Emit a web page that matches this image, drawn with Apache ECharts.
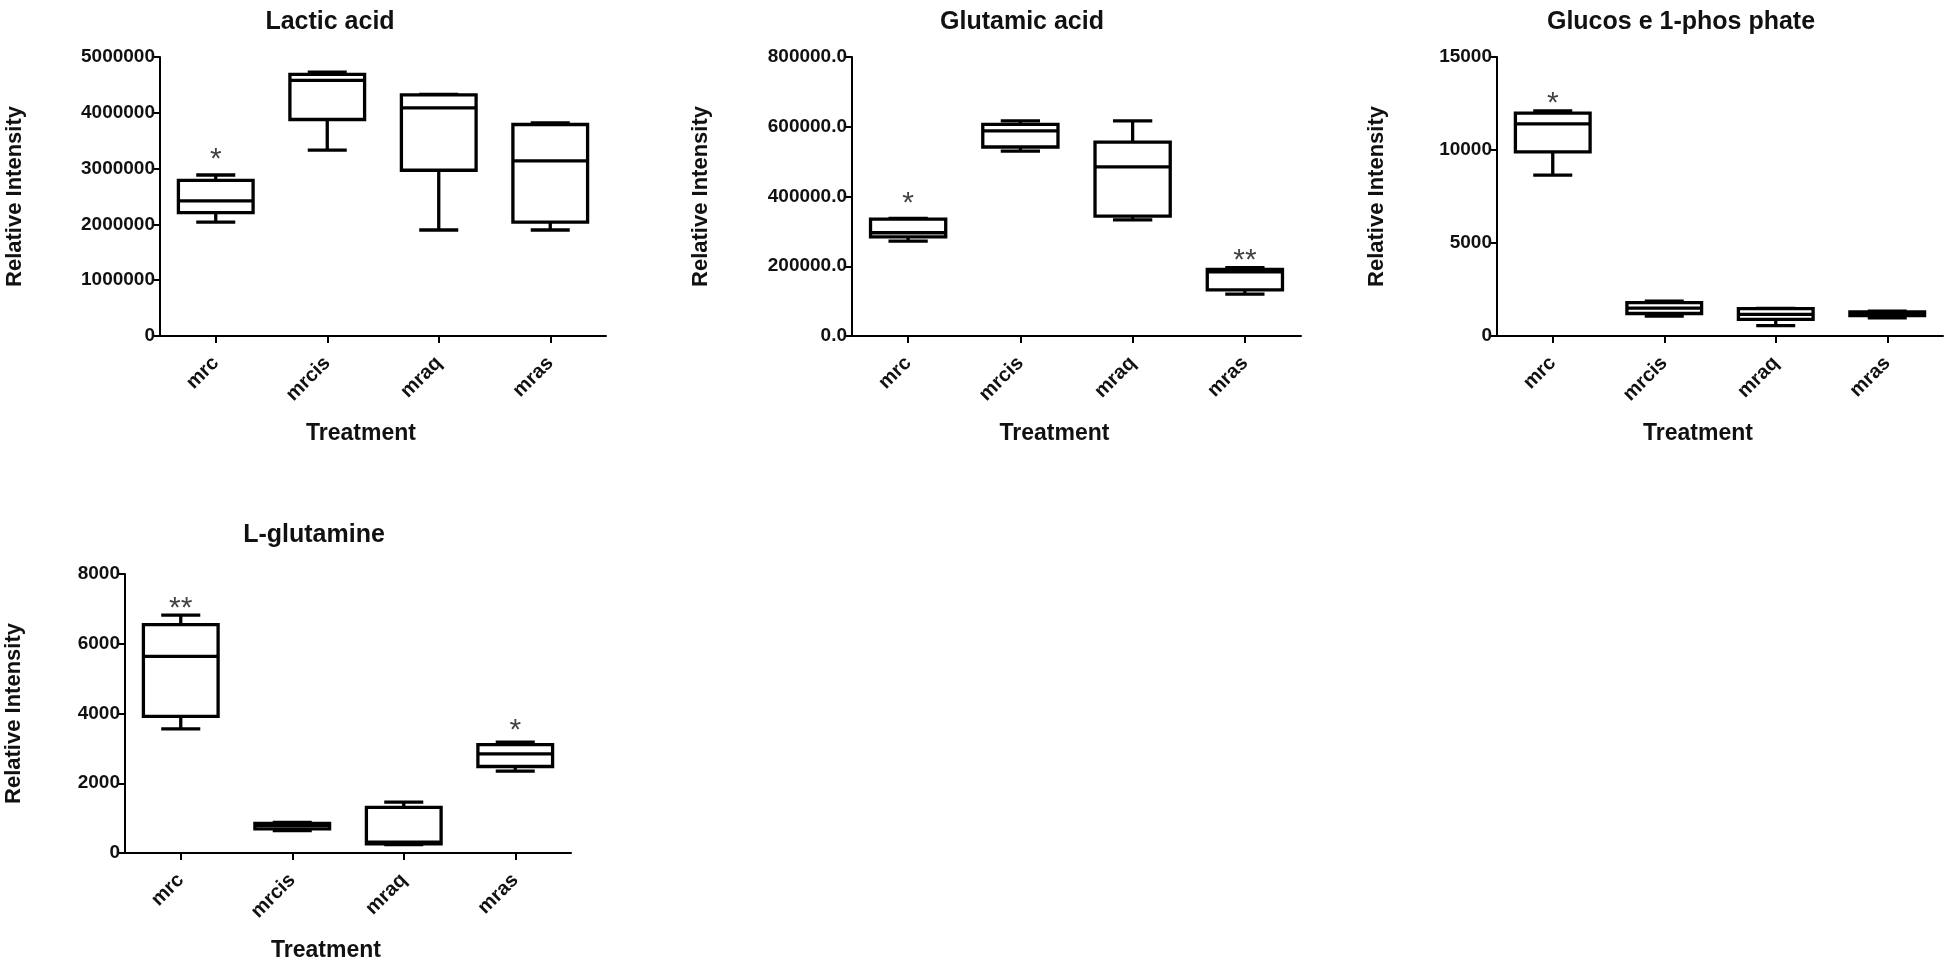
<!DOCTYPE html>
<html>
<head>
<meta charset="utf-8">
<script src="https://cdn.jsdelivr.net/npm/echarts@6/dist/echarts.min.js"></script>
<style>
html,body{margin:0;padding:0;background:#fff;}
#chart{width:1946px;height:963px;}
</style>
</head>
<body>
<div id="chart"></div>
<script>
// ---- data ----
const categories = ['mrc', 'mrcis', 'mraq', 'mras'];
const panelTitles = ['Lactic acid', 'Glutamic acid', 'Glucos e 1-phos phate', 'L-glutamine'];
// each row: [min, Q1, median, Q3, max]
const lacticAcid = [
  [2040000, 2210000, 2420000, 2790000, 2885000],
  [3330000, 3880000, 4580000, 4690000, 4730000],
  [1900000, 2970000, 4090000, 4320000, 4330000],
  [1900000, 2040000, 3140000, 3790000, 3820000]
];
const glutamicAcid = [
  [272000, 284000, 296000, 335000, 337000],
  [530000, 542000, 588000, 607000, 617000],
  [333000, 344000, 485000, 556000, 617000],
  [120000, 132000, 184000, 191000, 196000]
];
const glucose1Phosphate = [
  [8650, 9900, 11400, 11980, 12100],
  [1070, 1210, 1500, 1790, 1880],
  [560, 890, 1160, 1470, 1480],
  [980, 1100, 1200, 1300, 1340]
];
const lGlutamine = [
  [3560, 3920, 5640, 6550, 6820],
  [640, 690, 790, 850, 880],
  [240, 260, 310, 1310, 1460],
  [2350, 2480, 2840, 3110, 3180]
];
// significance marks: [category, value, text]
const lacticStars = [['mrc', 3320000, '*']];
const glutamicStars = [['mrc', 404000, '*'], ['mras', 241000, '**']];
const glucoseStars = [['mrc', 12960, '*']];
const glutamineStars = [['mrc', 7254, '**'], ['mras', 3764, '*']];
// y axis scales: [max, interval, decimals]
const yScales = [[5000000, 1000000, 0], [800000, 200000, 1], [15000, 5000, 0], [8000, 2000, 0]];
const xAxisName = 'Treatment';
const yAxisName = 'Relative Intensity';

// ---- layout ----
const panels = [
  {data: lacticAcid, stars: lacticStars, grid: {left: 160, top: 57, width: 446, height: 279}, nameGap: 134, title: [330, 22]},
  {data: glutamicAcid, stars: glutamicStars, grid: {left: 852, top: 57, width: 449, height: 279}, nameGap: 140, title: [1022, 22]},
  {data: glucose1Phosphate, stars: glucoseStars, grid: {left: 1497, top: 57, width: 446, height: 279}, nameGap: 109, title: [1681, 22]},
  {data: lGlutamine, stars: glutamineStars, grid: {left: 125, top: 574, width: 446, height: 279}, nameGap: 100, title: [314, 535]}
];
const FONT = '"Liberation Sans", Arial, sans-serif';
const INK = '#111';
const LW = 3.3;

function renderBox(params, api) {
  const c = api.value(0);
  const lo = api.value(1), q1 = api.value(2), med = api.value(3), q3 = api.value(4), hi = api.value(5);
  const band = api.size([1, 0])[0];
  const half = band * 0.335, cap = band * 0.175;
  const pLo = api.coord([c, lo]), pQ1 = api.coord([c, q1]), pMed = api.coord([c, med]);
  const pQ3 = api.coord([c, q3]), pHi = api.coord([c, hi]);
  const xc = pLo[0];
  const ls = {stroke: '#000', lineWidth: LW, fill: null};
  return {
    type: 'group',
    children: [
      {type: 'line', shape: {x1: xc, y1: pHi[1], x2: xc, y2: pQ3[1]}, style: ls},
      {type: 'line', shape: {x1: xc, y1: pQ1[1], x2: xc, y2: pLo[1]}, style: ls},
      {type: 'line', shape: {x1: xc - cap, y1: pHi[1], x2: xc + cap, y2: pHi[1]}, style: ls},
      {type: 'line', shape: {x1: xc - cap, y1: pLo[1], x2: xc + cap, y2: pLo[1]}, style: ls},
      {type: 'rect', shape: {x: xc - half, y: pQ3[1], width: 2 * half, height: pQ1[1] - pQ3[1]},
        style: {stroke: '#000', lineWidth: LW, fill: '#fff'}},
      {type: 'line', shape: {x1: xc - half, y1: pMed[1], x2: xc + half, y2: pMed[1]}, style: ls}
    ]
  };
}

const option = {
  backgroundColor: '#fff',
  animation: false,
  grid: [], xAxis: [], yAxis: [], series: [], graphic: []
};

panels.forEach((p, i) => {
  const [ymax, yint, dec] = yScales[i];
  option.grid.push(Object.assign({containLabel: false}, p.grid));
  option.xAxis.push({
    type: 'category', gridIndex: i, data: categories, boundaryGap: true,
    name: xAxisName, nameLocation: 'middle', nameGap: 86,
    nameTextStyle: {fontFamily: FONT, fontSize: 23, fontWeight: 'bold', color: INK, padding: [0, 44, 0, 0]},
    axisLine: {show: true, lineStyle: {color: '#000', width: 2}},
    axisTick: {show: true, alignWithLabel: true, length: 7, lineStyle: {color: '#000', width: 2}},
    axisLabel: {rotate: 45, margin: 24, fontFamily: FONT, fontSize: 20, fontWeight: 'bold', color: INK},
    splitLine: {show: false}
  });
  option.yAxis.push({
    type: 'value', gridIndex: i, min: 0, max: ymax, interval: yint,
    name: yAxisName, nameLocation: 'middle', nameGap: p.nameGap, nameRotate: 90,
    nameTextStyle: {fontFamily: FONT, fontSize: 22, fontWeight: 'bold', color: INK},
    axisLine: {show: true, lineStyle: {color: '#000', width: 2}},
    axisTick: {show: true, length: 7, lineStyle: {color: '#000', width: 2}},
    axisLabel: {margin: 5, fontFamily: FONT, fontSize: 19, fontWeight: 'bold', color: INK,
      formatter: v => v.toFixed(dec)},
    splitLine: {show: false}
  });
  option.series.push({
    type: 'custom', xAxisIndex: i, yAxisIndex: i, clip: false,
    renderItem: renderBox,
    encode: {x: 0, y: [1, 2, 3, 4, 5]},
    data: p.data.map((row, k) => [k].concat(row))
  });
  option.series.push({
    type: 'scatter', xAxisIndex: i, yAxisIndex: i,
    symbolSize: 1, itemStyle: {color: 'rgba(0,0,0,0)'},
    label: {show: true, position: 'inside', offset: [0, 9], fontFamily: FONT, fontSize: 30, color: INK,
      formatter: d => d.data.name},
    data: p.stars.map(s => ({value: [s[0], s[1]], name: s[2]}))
  });
  option.graphic.push({
    type: 'text', x: p.title[0], y: p.title[1],
    style: {text: panelTitles[i], fontFamily: FONT, fontSize: 25, fontWeight: 'bold', fill: INK,
      align: 'center', verticalAlign: 'middle'}
  });
});

const chart = echarts.init(document.getElementById('chart'));
chart.setOption(option);
</script>
</body>
</html>
